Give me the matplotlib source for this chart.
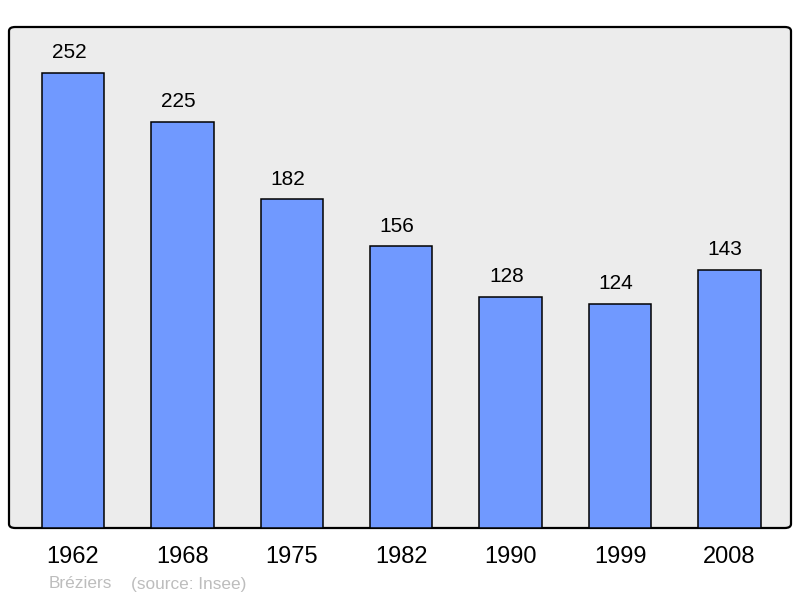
#!/usr/bin/env python3
"""Population bar chart for Bréziers (source: Insee)."""

import matplotlib

matplotlib.use("Agg")
import matplotlib.pyplot as plt
from matplotlib.patches import FancyBboxPatch

YEARS = ["1962", "1968", "1975", "1982", "1990", "1999", "2008"]
POPULATION = [252, 225, 182, 156, 128, 124, 143]
COMMUNE = "Bréziers"
SOURCE = "(source: Insee)"

BAR_COLOR = "#7099ff"
BG_COLOR = "#ececec"

plt.rcParams["font.family"] = ["Liberation Sans", "DejaVu Sans"]

fig = plt.figure(figsize=(8.0, 5.98), dpi=100)
ax = fig.add_axes([9 / 800, 70 / 598, 782 / 800, 501 / 598])
ax.set_facecolor("none")

# rounded frame behind the bars
frame = FancyBboxPatch(
    (0, 0),
    1,
    1,
    boxstyle="round,pad=0,rounding_size=0.008",
    transform=ax.transAxes,
    facecolor=BG_COLOR,
    edgecolor="black",
    linewidth=1.6,
    zorder=0,
    clip_on=False,
)
ax.add_patch(frame)

x = list(range(len(YEARS)))
ax.bar(x, POPULATION, width=0.57, color=BAR_COLOR, edgecolor="black", linewidth=1.1, zorder=2)
for xi, val in zip(x, POPULATION):
    ax.annotate(
        str(val),
        (xi, val),
        xytext=(-3, 14.5),
        textcoords="offset points",
        ha="center",
        va="center",
        fontsize=15,
    )

ax.set_xlim(-0.585, 6.563)
ax.set_ylim(0, 277.4)
ax.set_xticks(x)
ax.set_xticklabels(YEARS, fontsize=17)
ax.tick_params(axis="x", length=0, pad=13)
ax.set_yticks([])
for spine in ax.spines.values():
    spine.set_visible(False)

fig.text(49 / 800, 1 - 584 / 598, COMMUNE, fontsize=12.4, color="#bdbdbd", va="center", ha="left")
fig.text(131 / 800, 1 - 584 / 598, SOURCE, fontsize=12.4, color="#bdbdbd", va="center", ha="left")

fig.savefig("out.png", dpi=100)
